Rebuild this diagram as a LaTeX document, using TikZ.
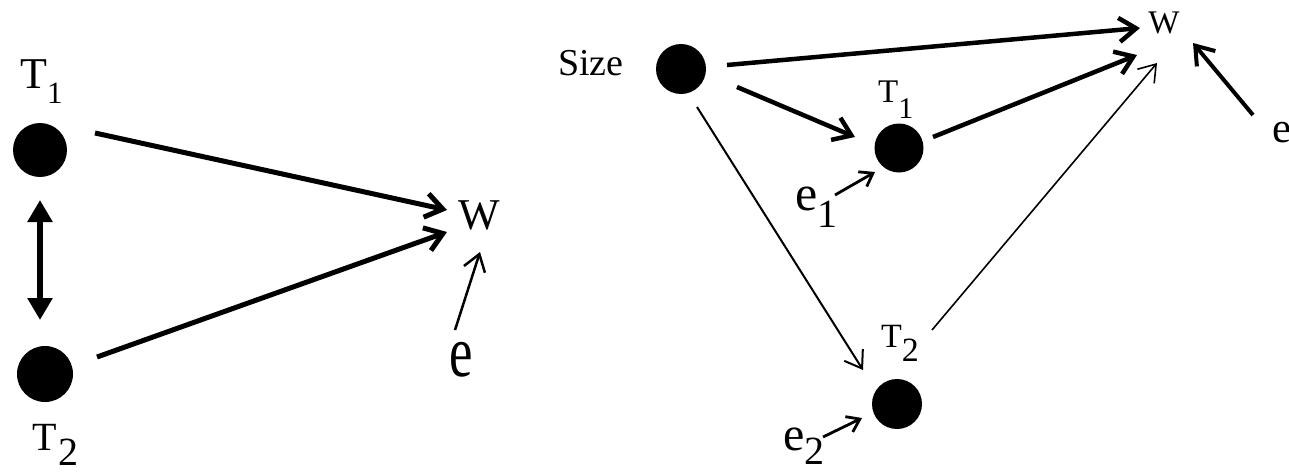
\documentclass[tikz,border=0pt]{standalone}
\usepackage{fontspec}
\setmainfont{Liberation Serif}
\usetikzlibrary{arrows.meta}
\newcommand{\fsz}[1]{\fontsize{#1}{#1}\selectfont}
\begin{document}
\begin{tikzpicture}[x=1pt,y=-1pt,
  blob/.style={circle,fill=black,inner sep=0pt,minimum size=#1},
  lab/.style={anchor=base west,inner sep=0pt},
  clab/.style={anchor=center,inner sep=0pt},
  heavy/.style={line width=#1,-{Straight Barb[length=17pt,width=24pt]}},
  light/.style={line width=#1,-{Straight Barb[length=16pt,width=22pt]}},
  small/.style={line width=#1,-{Straight Barb[length=12pt,width=17pt]}},
  both/.style={line width=5.5pt,{Triangle[length=22pt,width=24pt]}-{Triangle[length=22pt,width=24pt]}}
]
\useasboundingbox (0,0) rectangle (1289,474);

% ---------- left diagram ----------
\node[blob=54pt] (t1L) at (40,150) {};
\node[blob=56pt] (t2L) at (45,374) {};
\node[lab] (t1Llab) at (20,88) {\fsz{44}T\raisebox{-15pt}{\fsz{31}1}};
\node[lab] (t2Llab) at (32,450) {\fsz{40}T\kern2pt\raisebox{-15pt}{\fsz{40}2}};
\node[clab] (wL) at (479,215) {\fsz{44}W};
\node[clab] (eL) at (461,360) {\scalebox{0.8}[1.1]{\fsz{66}e}};

\draw[heavy=5pt] ([shift={(55,-17)}]t1L.center) -- ([shift={(-32,-5)}]wL.center);
\draw[heavy=5pt] ([shift={(52,-17)}]t2L.center) -- ([shift={(-32,17)}]wL.center);
\draw[both] ([shift={(0,50)}]t1L.center) -- ([shift={(-5,-54)}]t2L.center);
\draw[light=2.5pt] ([shift={(-6,-30)}]eL.center) -- ([shift={(1,37)}]wL.center);

% ---------- right diagram ----------
\node[blob=50pt] (size) at (681,69) {};
\node[blob=49pt] (t1R) at (899,148) {};
\node[blob=50pt] (t2R) at (897,404) {};
\node[lab] (sizelab) at (558,75) {\fsz{38}Size};
\node[lab] (t1Rlab) at (878,102) {\fsz{33}T\raisebox{-16pt}{\fsz{30}1}};
\node[lab] (t2Rlab) at (881,347) {\fsz{34}T\raisebox{-14pt}{\fsz{34}2}};
\node[clab] (wR) at (1164,23) {\fsz{33}W};
\node[clab] (eR) at (1282,133) {\fsz{43}e};
\node[lab] (e1) at (795,210) {\fsz{50}e\raisebox{-17pt}{\fsz{40}1}};
\node[lab] (e2) at (783,450) {\fsz{48}e\raisebox{-14pt}{\fsz{40}2}};

\draw[heavy=4.5pt] ([shift={(46,-4)}]size.center) -- ([shift={(-24,5)}]wR.center);
\draw[heavy=4.5pt] ([shift={(56,18)}]size.center) -- ([shift={(-44,-11)}]t1R.center);
\draw[light=2pt] ([shift={(16,38)}]size.center) -- ([shift={(-34,-34)}]t2R.center);
\draw[heavy=4.5pt] ([shift={(34,-11)}]t1R.center) -- ([shift={(-27,32)}]wR.center);
\draw[light=1.6pt] ([shift={(35,-74)}]t2R.center) -- ([shift={(-7,40)}]wR.center);
\draw[heavy=4pt] ([shift={(-29,-18)}]eR.center) -- ([shift={(29,20)}]wR.center);
\draw[small=2.8pt] ([shift={(40,-15)}]e1.base west) -- ([shift={(-24,24)}]t1R.center);
\draw[small=2.8pt] ([shift={(40,-13)}]e2.base west) -- ([shift={(-35,14)}]t2R.center);
\end{tikzpicture}
\end{document}
